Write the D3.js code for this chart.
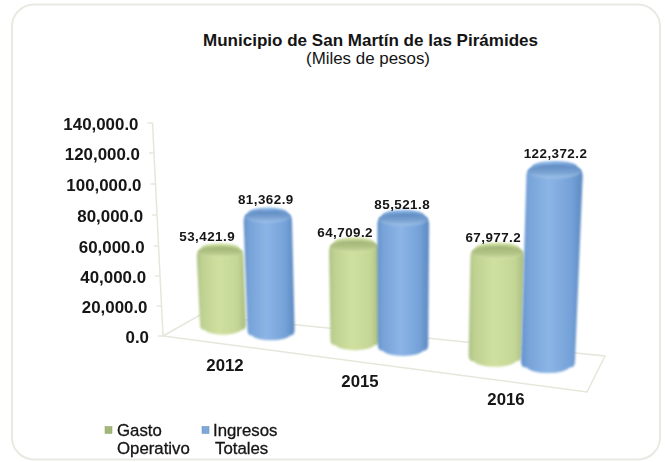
<!DOCTYPE html>
<html><head><meta charset="utf-8">
<script src="https://cdn.jsdelivr.net/npm/d3@7"></script>
<style>html,body{margin:0;padding:0;background:#fff}svg{display:block}text{font-family:"Liberation Sans",Arial,sans-serif;fill:#141414}</style>
</head><body><div id="chart"></div>
<script>
const categories = ["2012", "2015", "2016"];
const seriesNames = ["Gasto Operativo", "Ingresos Totales"];
const gastoOperativo = [53421.9, 64709.2, 67977.2];
const ingresosTotales = [81362.9, 85521.8, 122372.2];
const tickValues = [0, 20000, 40000, 60000, 80000, 100000, 120000, 140000];
const title = "Municipio de San Martín de las Pirámides";
const subtitle = "(Miles de pesos)";

const W = 665, H = 462;
const svg = d3.select("#chart").append("svg").attr("width", W).attr("height", H);
const defs = svg.append("defs");

function cylGrad(id, stops, vertical) {
  const g = defs.append("linearGradient").attr("id", id).attr("x1", 0).attr("y1", 0)
    .attr("x2", vertical ? 0 : 1).attr("y2", vertical ? 1 : 0);
  stops.forEach(s => g.append("stop").attr("offset", s[0]).attr("stop-color", s[1]));
}
cylGrad("bodyG", [[0,"#aec285"],[0.1,"#bfd191"],[0.45,"#cfe09f"],[0.82,"#c5d796"],[1,"#a9bd80"]]);
cylGrad("bodyB", [[0,"#6390c8"],[0.1,"#76a2d8"],[0.45,"#8cb5e6"],[0.82,"#74a1d8"],[1,"#5c89c0"]]);
cylGrad("topG", [[0,"#a0b278"],[0.55,"#b3c486"],[1,"#d5e3a8"]], true);
cylGrad("topB", [[0,"#5c89c0"],[0.55,"#78a1d2"],[1,"#a0c2ea"]], true);
const soft = defs.append("filter").attr("id", "soft").attr("x", "-10%").attr("y", "-10%").attr("width", "120%").attr("height", "120%");
soft.append("feGaussianBlur").attr("stdDeviation", 0.8);
const capSoft = defs.append("filter").attr("id", "capSoft").attr("x", "-10%").attr("y", "-30%").attr("width", "120%").attr("height", "160%");
capSoft.append("feGaussianBlur").attr("stdDeviation", 1.1);
const textSoft = defs.append("filter").attr("id", "textSoft").attr("x", "-5%").attr("y", "-20%").attr("width", "110%").attr("height", "140%");
textSoft.append("feGaussianBlur").attr("stdDeviation", 0.35);

// panel
svg.append("rect").attr("x", 12).attr("y", 4.5).attr("width", 648).attr("height", 455).attr("rx", 22)
  .attr("fill", "#fff").attr("stroke", "#e9e9e4").attr("stroke-width", 2);

// perspective
const vanish = [395, 4856];
const lift = (bx, by, h) => [bx + (bx - vanish[0]) * h / (vanish[1] - by), by - h];

// value axis (uneven spacing as drawn)
const yAxis = d3.scaleLinear().domain(tickValues).range([336, 306, 276, 246, 215, 184, 153, 123]);
const axisX = d3.scaleLinear().domain([336, 123]).range([163, 152.5]);
const axisColor = "#e6e7da";

// floor
const floor = svg.append("g").attr("fill", "none").attr("stroke", axisColor).attr("stroke-width", 1.5);
floor.append("path").attr("d", d3.line()([[163,336],[200,315],[605,356],[587,392],[163,336]]));
floor.append("path").attr("d", d3.line()([[axisX(336),336],[axisX(123),123]]));

const axisG = svg.append("g");
tickValues.forEach(t => {
  const y = yAxis(t), x = axisX(y);
  axisG.append("line").attr("x1", x - 5).attr("x2", x).attr("y1", y).attr("y2", y).attr("stroke", axisColor).attr("stroke-width", 1.5);
  axisG.append("text").attr("x", x - 14).attr("y", y + 1).attr("dy", "0.35em").attr("text-anchor", "end")
    .attr("filter", "url(#textSoft)")
    .attr("font-size", 16.9).attr("font-weight", "bold").text(d3.format(",.1f")(t));
});

// bars: position along the floor
const baseX = [
  d3.scaleLinear().domain([0, 1, 2]).range([223, 355, 495]),
  d3.scaleLinear().domain([0, 1, 2]).range([271, 403, 548])
];
const baseY = d3.scaleLinear().domain([222, 548]).range([326, 363]);
const radius = d3.scaleLinear().domain([326, 363]).range([23, 27]);
const pxFull = d3.scaleLinear().domain([326, 363]).range([1.385 * 140, 1.565 * 140]);
const heightOf = (v, by) => d3.scaleLinear().domain([0, 140000]).range([0, pxFull(by)])(v);
const labelNudgeX = [[-13, -9, -4], [-2, -1, 1]];
const labelNudgeY = [[-5, -3, -3], [-6, -4, -6]];

[gastoOperativo, ingresosTotales].forEach((vals, s) => {
  vals.forEach((v, i) => {
    const bx = baseX[s](i), by = baseY(bx), rx = radius(by), ry = rx * 0.27;
    const h = heightOf(v, by);
    const [tx, ty] = lift(bx, by, h);
    const rt = rx * (vanish[1] - ty) / (vanish[1] - by), rty = rt * 0.27;
    const key = s ? "B" : "G";
    const g = svg.append("g").attr("filter", "url(#soft)");
    const shoulder = 5;
    g.append("path")
      .attr("d", `M${bx - rx},${by - 2} L${tx - rt},${ty + shoulder} Q${tx - rt},${ty - 1} ${tx - rt * 0.82},${ty - rty * 0.55}
        A${rt * 0.82},${rty * 0.84} 0 0 1 ${tx + rt * 0.82},${ty - rty * 0.55} Q${tx + rt},${ty - 1} ${tx + rt},${ty + shoulder}
        L${bx + rx},${by - 2} Q${bx + rx},${by + ry * 0.7} ${bx + rx * 0.8},${by + ry * 0.6}
        A${rx * 0.82},${ry} 0 0 1 ${bx - rx * 0.8},${by + ry * 0.6} Q${bx - rx},${by + ry * 0.7} ${bx - rx},${by - 2} Z`)
      .attr("fill", `url(#body${key})`);
    svg.append("ellipse").attr("cx", tx).attr("cy", ty).attr("rx", rt - 1.5).attr("ry", rty - 0.5)
      .attr("fill", `url(#top${key})`).attr("filter", "url(#capSoft)");
    svg.append("text").attr("x", tx + labelNudgeX[s][i]).attr("y", ty - rty + labelNudgeY[s][i]).attr("text-anchor", "middle")
      .attr("filter", "url(#textSoft)")
      .attr("font-size", 13.4).attr("font-weight", "bold").attr("letter-spacing", 0.45).text(d3.format(",.1f")(v));
  });
});

// category labels
const catX = d3.scaleLinear().domain([0, 1, 2]).range([225, 360, 506]);
const catY = d3.scaleLinear().domain([0, 1, 2]).range([365, 381, 399]);
categories.forEach((c, i) => svg.append("text").attr("x", catX(i)).attr("y", catY(i)).attr("dy", "0.35em")
  .attr("filter", "url(#textSoft)")
  .attr("text-anchor", "middle").attr("font-size", 16.8).attr("font-weight", "bold").text(c));

// titles
svg.append("text").attr("x", 370.5).attr("y", 45.5).attr("text-anchor", "middle").attr("font-size", 16.5)
  .attr("font-weight", "bold").attr("textLength", 335).attr("lengthAdjust", "spacingAndGlyphs").text(title);
svg.append("text").attr("x", 368).attr("y", 64).attr("text-anchor", "middle").attr("font-size", 16.5)
  .attr("textLength", 124).attr("lengthAdjust", "spacingAndGlyphs").text(subtitle);

// legend
const legendX = [105, 202], legendColors = ["#a3b878", "#7fa8d8"], legendEdge = ["#8ea163", "#5f8dc4"];
const legendTextX = [[117, 117], [213, 215]];
seriesNames.forEach((n, i) => {
  svg.append("rect").attr("x", legendX[i]).attr("y", 426.5).attr("width", 7).attr("height", 7)
    .attr("fill", legendColors[i]).attr("stroke", legendEdge[i]).attr("stroke-width", 0.5);
  n.split(" ").forEach((p, k) => {
    svg.append("text").attr("x", legendTextX[i][k]).attr("y", 436 + k * 18).attr("font-size", 16.8)
      .attr("filter", "url(#textSoft)").attr("stroke", "#141414").attr("stroke-width", 0.3).text(p);
  });
});
</script></body></html>
